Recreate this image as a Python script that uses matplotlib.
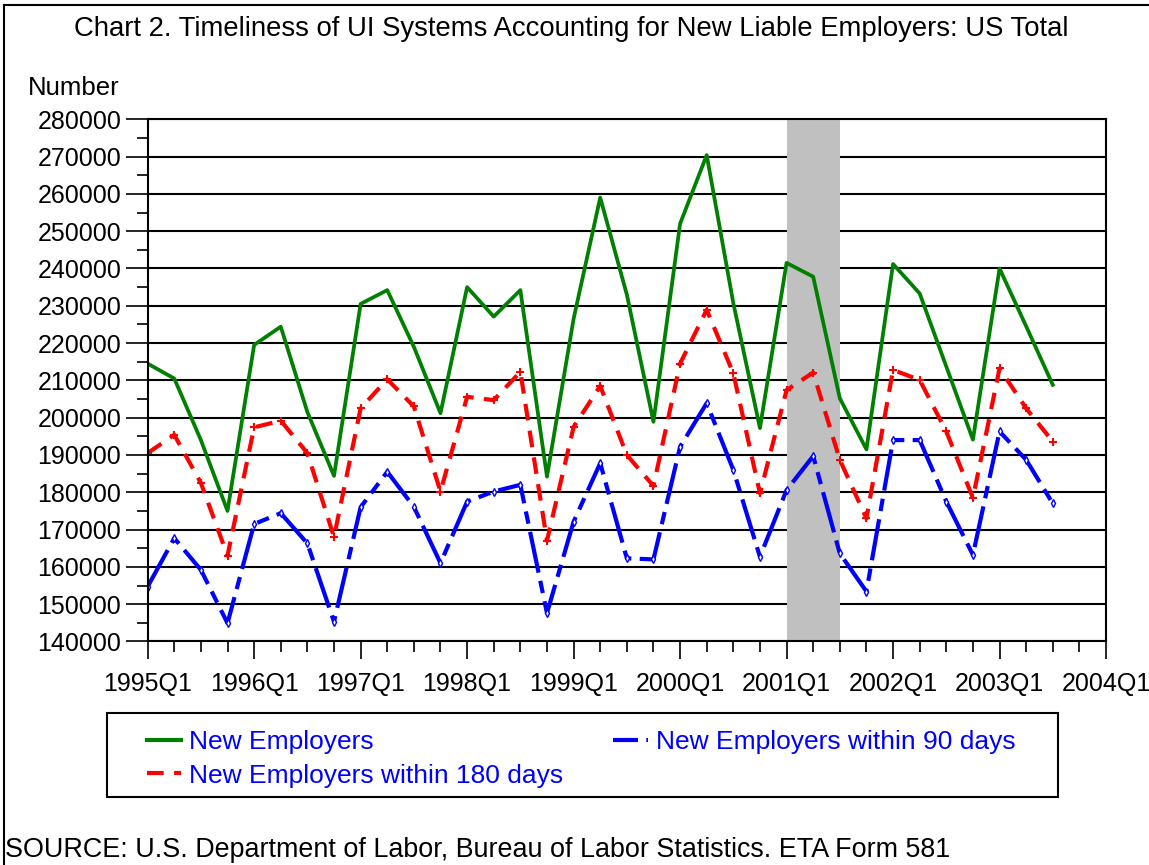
import matplotlib
matplotlib.use("Agg")
import matplotlib.pyplot as plt
from matplotlib.ticker import MultipleLocator
from matplotlib.lines import Line2D
from matplotlib.patches import Rectangle

plt.rcParams["font.family"] = ["Liberation Sans", "DejaVu Sans"]

# quarters 1995Q1 .. 2003Q3
start_year = 1995
new_employers = [214500, 210500, 194000, 175000, 219500, 224400, 201500, 184400,
                 230500, 234200, 219000, 201200, 235000, 227100, 234200, 184200,
                 226500, 259000, 233000, 198900, 252000, 270400, 230700, 197200,
                 241500, 237800, 205200, 191500, 241200, 233300, 213700, 194100,
                 240000, 224500, 208800]
within_180 = [190500, 195400, 182500, 163000, 197400, 199200, 190500, 168000,
              202500, 210300, 203000, 180200, 205600, 204700, 212300, 167000,
              197500, 208500, 190000, 181700, 214500, 228900, 211900, 179700,
              207400, 212100, 188700, 173000, 212800, 210100, 196300, 178500,
              213200, 202500, 193600]
within_90 = [154700, 167700, 159200, 144900, 171500, 174400, 166300, 145300,
             176000, 185500, 176100, 161000, 177500, 180200, 182000, 147600,
             172100, 187800, 162300, 162000, 192200, 203900, 186000, 162700,
             180600, 189700, 163600, 153400, 194000, 194000, 177500, 163200,
             196300, 188700, 177000]
years = list(range(1995, 2005))
recession = (2001.0, 2001.5)

x = [start_year + i / 4 for i in range(len(new_employers))]

fig = plt.figure(figsize=(11.49, 8.65), dpi=100)
ax = fig.add_axes([0.1285, 0.2584, 0.9626 - 0.1285, 0.8621 - 0.2584])

ax.axvspan(recession[0], recession[1], color="#C0C0C0", zorder=1, lw=0)

ax.plot(x, new_employers, color="#008000", lw=2.7, zorder=3)
ax.plot(x, within_180, color="#FF0000", lw=3, dashes=(4, 2.5), marker="+",
        ms=6, mew=1.5, zorder=3)
ax.plot(x, within_90, color="#0000FF", lw=3, dashes=(10, 2, 3, 2), marker="d",
        ms=4, mfc="white", mew=1, zorder=3)

ax.set_xlim(1995, 2004)
ax.set_ylim(140000, 280000)
ax.set_xticks(years)
ax.set_xticklabels([f"{y}Q1" for y in years])
ax.xaxis.set_minor_locator(MultipleLocator(0.25))
ax.yaxis.set_major_locator(MultipleLocator(10000))
ax.yaxis.set_minor_locator(MultipleLocator(5000))
ax.grid(axis="y", which="major", color="black", lw=1.5, zorder=0)
ax.set_axisbelow(True)

ax.tick_params(axis="both", which="major", direction="out", labelsize=18,
               width=1.2, color="black")
ax.tick_params(axis="x", which="major", length=13, pad=9)
ax.tick_params(axis="x", which="minor", length=8, width=1.2)
ax.tick_params(axis="y", which="major", length=16, pad=3)
ax.tick_params(axis="y", which="minor", length=8, width=1.2)
for s in ax.spines.values():
    s.set_linewidth(1.5)
    s.set_zorder(4)

fig.text(0.4975, 0.967, "Chart 2. Timeliness of UI Systems Accounting for New Liable Employers: US Total",
         ha="center", va="center", fontsize=19.8)
fig.text(0.024, 0.898, "Number", ha="left", va="center", fontsize=18.5)
fig.text(0.004, 0.017, "SOURCE: U.S. Department of Labor, Bureau of Labor Statistics. ETA Form 581",
         ha="left", va="center", fontsize=19.4)

# legend box
fig.add_artist(Rectangle((107 / 1149, 1 - 797 / 865), (1058 - 107) / 1149, (797 - 713) / 865,
                         transform=fig.transFigure, fill=False, edgecolor="black", lw=1.5))

handles = [
    Line2D([], [], color="#008000", lw=3),
    Line2D([], [], color="#FF0000", lw=3, dashes=(4, 2.5)),
    Line2D([], [], color="#0000FF", lw=3, dashes=(6, 2, 2, 2)),
]
labels = ["New Employers", "New Employers within 180 days", "New Employers within 90 days"]
leg = fig.legend(handles, labels, ncol=2, loc="upper left",
                 bbox_to_anchor=(147 / 1149, 1 - 730 / 865), bbox_transform=fig.transFigure,
                 fontsize=19, frameon=False, borderpad=0, borderaxespad=0,
                 handlelength=1.3, handletextpad=0.3, columnspacing=1.9,
                 labelspacing=0.36)
for t in leg.get_texts():
    t.set_color("#0000FF")

# outer frame lines (top and left)
fig.add_artist(Line2D([0.0035, 1.0], [0.994, 0.994], color="black", lw=1.5,
                      transform=fig.transFigure))
fig.add_artist(Line2D([0.0035, 0.0035], [0.0, 0.994], color="black", lw=1.5,
                      transform=fig.transFigure))

fig.savefig("out.png", dpi=100)
